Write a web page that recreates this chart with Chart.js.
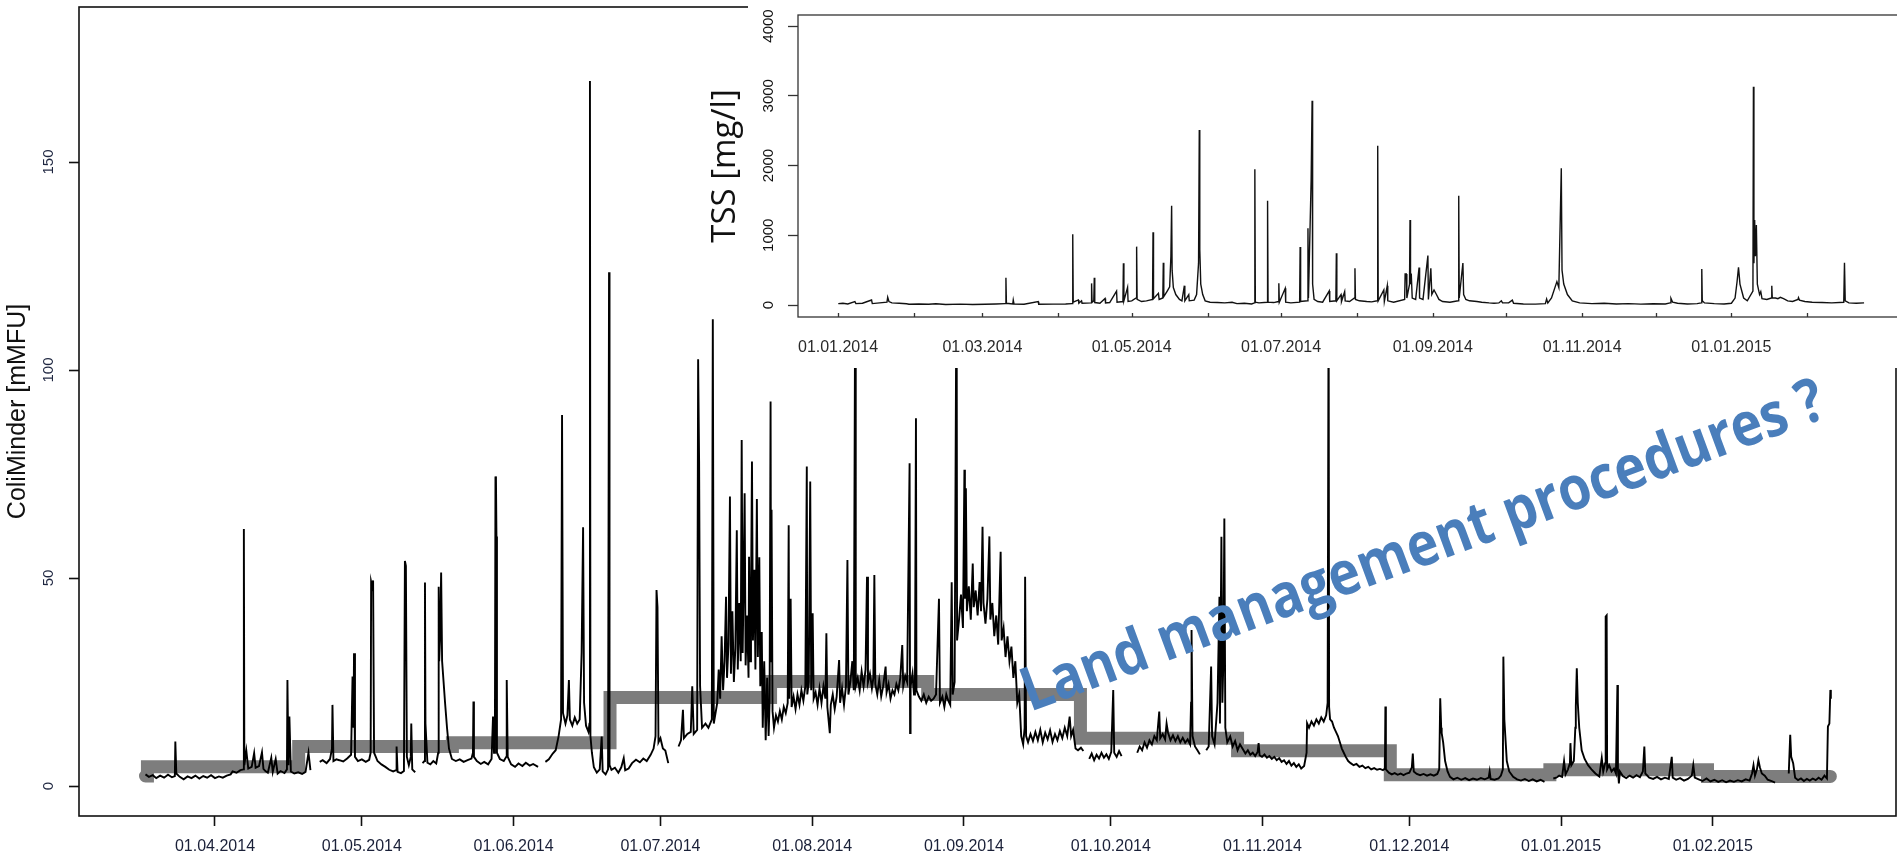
<!DOCTYPE html>
<html>
<head>
<meta charset="utf-8">
<script src="https://cdn.jsdelivr.net/npm/chart.js@4.4.1/dist/chart.umd.min.js"></script>
<style>
  html, body { margin: 0; padding: 0; background: #fff; overflow: hidden; }
  #wrap { position: relative; width: 1897px; height: 861px; overflow: hidden; }
  #main { position: absolute; left: 0; top: 0; }
  #inset { position: absolute; left: 700px; top: 0; }
</style>
</head>
<body>
<div id="wrap">
  <canvas id="main" width="1897" height="861"></canvas>
  <canvas id="inset" width="1202" height="368"></canvas>
</div>
<script>
// days are counted from 01.01.2014
const mainTickLabels = ["01.04.2014", "01.05.2014", "01.06.2014", "01.07.2014", "01.08.2014", "01.09.2014",
  "01.10.2014", "01.11.2014", "01.12.2014", "01.01.2015", "01.02.2015"];
const coliTicks = [0, 50, 100, 150];

const insetTickDates = ["01.01.2014", "01.02.2014", "01.03.2014", "01.04.2014", "01.05.2014", "01.06.2014",
  "01.07.2014", "01.08.2014", "01.09.2014", "01.10.2014", "01.11.2014", "01.12.2014", "01.01.2015", "01.02.2015"];
const insetTickLabels = ["01.01.2014", "", "01.03.2014", "", "01.05.2014", "", "01.07.2014", "",
  "01.09.2014", "", "01.11.2014", "", "01.01.2015", ""];
const tssTicks = [0, 1000, 2000, 3000, 4000];

// grab sample means (grey steps): start day of each level and its value
const stepStartDays = [75.8, 76.2, 107.1, 138.5, 170.7, 203.5, 235.6, 266.8, 298.9, 330.1, 362.7, 394.9, 420.0];
const stepValues = [2.4, 4.6, 9.5, 10.4, 21.3, 25.1, 22.0, 11.5, 8.5, 2.7, 3.9, 2.3, 2.3];

// ColiMinder online signal [day, mMFU]; null = gap in the record
const coliSeries = [
  [75.8, 2.8], [76.5, 2.2], [77.3, 2.6], [78.0, 1.9], [78.8, 2.5], [79.6, 2.0], [80.4, 2.7], [81.2, 2.1],
  [81.8, 2.4], [81.9, 10.7], [82.1, 3.0], [82.8, 2.2], [83.6, 1.6], [84.4, 2.3], [85.2, 1.9], [86.0, 2.5],
  [86.8, 1.8], [87.6, 2.4], [88.4, 2.0], [89.2, 2.6], [90.0, 1.9], [90.8, 2.3], [91.6, 2.0], [92.4, 2.5],
  [93.2, 2.8], [93.6, 3.5], [94.4, 3.2], [95.2, 3.8], [95.8, 4.0], [95.9, 61.8], [96.0, 5.0], [96.4, 8.5],
  [96.8, 4.2], [97.5, 4.6], [98.0, 7.9], [98.3, 4.4], [99.0, 4.8], [99.6, 8.1], [99.9, 4.1], [100.3, 3.6],
  [100.8, 3.2], [101.5, 6.8], [101.8, 3.4], [102.4, 6.5], [102.8, 3.0], [103.4, 3.6], [104.2, 3.1], [104.7, 4.0],
  [104.8, 25.5], [105.0, 5.0], [105.2, 16.7], [105.5, 3.5], [106.2, 3.0], [107.0, 3.3], [107.8, 2.9], [108.5, 3.4],
  [109.1, 8.0], [109.5, 3.8], [110.4, null],
  [111.4, 5.8], [112.0, 6.2], [112.8, 5.5], [113.5, 6.5], [113.9, 9.0], [114.0, 19.5], [114.2, 6.0], [114.8, 6.4],
  [115.4, 6.2], [116.2, 5.9], [117.0, 6.6], [117.8, 7.5], [118.1, 26.3], [118.3, 14.0], [118.4, 31.9], [118.6, 7.0],
  [119.2, 6.0], [120.0, 6.4], [120.8, 5.8], [121.5, 6.3], [121.8, 8.0], [121.9, 49.1], [122.1, 48.0], [122.3, 49.4],
  [122.5, 8.0], [123.2, 6.0], [124.0, 5.2], [124.8, 4.6], [125.6, 3.9], [126.4, 3.5], [127.0, 3.8], [127.1, 9.5],
  [127.3, 3.4], [128.0, 3.1], [128.6, 3.6], [128.8, 54.1], [129.0, 52.9], [129.2, 7.0], [129.6, 5.0], [130.0, 7.0],
  [130.1, 15.0], [130.3, 4.0], [130.9, 3.3], [131.6, null],
  [132.4, 5.5], [132.8, 6.0], [132.9, 48.9], [133.0, 15.0], [133.4, 5.6], [134.0, 5.2], [134.6, 6.0], [135.2, 5.4],
  [135.6, 8.0], [135.7, 47.9], [135.8, 30.0], [136.0, 36.0], [136.2, 51.3], [136.4, 30.0], [136.7, 25.0], [137.0, 20.0],
  [137.4, 14.0], [137.8, 9.0], [138.4, 6.5], [139.2, 6.0], [140.0, 6.4], [140.8, 5.8], [141.6, 6.2], [142.4, 6.6],
  [142.7, 8.0], [142.8, 20.3], [142.9, 7.0], [143.5, 6.0], [144.3, 5.3], [145.0, 5.8], [145.8, 5.2], [146.5, 6.5],
  [146.8, 16.7], [147.0, 8.0], [147.2, 20.0], [147.3, 74.4], [147.4, 73.6], [147.5, 60.0], [147.6, 8.0], [148.2, 6.5],
  [149.0, 6.0], [149.5, 7.0], [149.6, 25.5], [149.8, 7.0], [150.5, 5.2], [151.3, 4.6], [152.0, 5.4], [152.8, 4.8],
  [153.5, 5.6], [154.3, 4.9], [155.0, 5.3], [156.0, 4.6], [156.6, null],
  [157.5, 5.8], [158.2, 6.4], [159.0, 7.8], [159.6, 8.6], [160.2, 12.0], [160.7, 16.0], [160.9, 89.2], [161.1, 17.5],
  [161.6, 15.0], [162.0, 17.0], [162.3, 25.5], [162.5, 16.0], [163.0, 14.5], [163.5, 16.5], [164.0, 15.0], [164.5, 16.0],
  [164.9, 32.0], [165.2, 62.2], [165.4, 20.0], [165.8, 14.5], [166.3, 13.0], [166.5, 15.0], [166.6, 169.5], [166.7, 12.0],
  [167.0, 8.0], [167.4, 4.5], [168.0, 3.2], [168.6, 4.0], [169.0, 11.9], [169.2, 3.5], [169.8, 2.8], [170.3, 4.0],
  [170.5, 123.5], [170.6, 5.0], [171.0, 3.9], [171.7, 4.4], [172.4, 3.2], [173.0, 4.5], [173.5, 6.7], [173.8, 3.8],
  [174.5, 4.2], [175.2, 5.5], [176.0, 6.3], [176.8, 5.7], [177.5, 6.6], [178.2, 6.0], [179.0, 7.5], [179.6, 9.0],
  [180.0, 12.0], [180.2, 47.1], [180.4, 43.0], [180.6, 10.5], [181.0, 11.5], [181.5, 9.0], [182.0, 8.5], [182.6, 5.5],
  [183.5, null],
  [184.7, 9.5], [185.2, 11.0], [185.6, 18.3], [185.8, 11.5], [186.5, 12.5], [187.2, 13.0], [187.5, 24.0], [187.8, 12.5],
  [188.5, 13.5], [188.7, 102.6], [188.9, 78.0], [189.1, 24.0], [189.5, 14.0], [190.2, 15.0], [190.8, 14.0], [191.5, 16.0],
  [191.7, 112.2], [191.9, 15.0],
  [192.6, 20.0], [192.9, 28.0], [193.2, 21.0], [193.5, 36.0], [193.8, 23.0], [194.1, 30.0], [194.4, 45.5], [194.6, 26.0],
  [194.9, 34.0], [195.2, 69.6], [195.4, 27.0], [195.7, 42.0], [196.0, 25.0], [196.3, 33.0], [196.6, 61.5], [196.8, 28.0],
  [197.1, 44.0], [197.4, 30.0], [197.6, 83.2], [197.8, 32.0], [198.0, 50.0], [198.2, 70.4], [198.4, 29.0], [198.7, 41.0],
  [199.0, 26.0], [199.1, 55.1], [199.3, 30.0], [199.5, 45.0], [199.7, 78.0], [199.9, 35.0], [200.2, 52.0], [200.4, 28.0],
  [200.7, 69.0], [200.9, 31.0], [201.2, 55.0], [201.4, 24.0], [201.7, 37.0], [201.9, 14.0], [202.2, 30.0], [202.5, 11.0],
  [202.8, 26.0], [203.1, 12.0], [203.3, 20.0], [203.5, 92.4], [203.6, 30.0], [203.7, 66.4], [203.9, 18.0],
  [204.2, 14.0], [204.6, 17.0], [205.0, 15.5], [205.4, 18.0], [205.8, 16.0], [206.2, 19.0], [206.6, 17.5], [207.0, 20.0],
  [207.2, 62.7], [207.3, 21.0], [207.6, 45.0], [207.8, 19.0], [208.2, 21.5], [208.6, 18.5], [209.0, 22.0], [209.4, 19.5],
  [209.8, 23.0], [210.2, 20.5], [210.6, 24.0], [210.9, 76.8], [211.0, 22.0], [211.3, 25.0], [211.6, 73.2], [211.8, 23.0],
  [212.1, 41.5], [212.3, 21.0], [212.7, 22.5], [213.1, 19.5], [213.5, 23.5], [213.9, 20.0], [214.3, 24.0], [214.7, 21.0],
  [214.9, 36.7], [215.1, 19.0], [215.6, 12.7], [215.8, 19.5], [216.2, 22.0], [216.6, 18.5], [217.0, 21.5], [217.5, 30.3],
  [217.7, 20.0], [218.1, 23.5], [218.5, 19.5], [218.9, 24.0], [219.2, 54.3], [219.4, 22.0], [219.8, 25.0], [220.2, 30.0],
  [220.5, 23.0], [220.8, 125.0], [220.9, 24.0],
  [221.3, 26.0], [221.7, 23.0], [222.1, 27.5], [222.5, 24.0], [222.9, 28.0], [223.2, 50.3], [223.4, 25.0], [223.8, 27.0],
  [224.2, 23.5], [224.5, 26.0], [224.7, 50.7], [224.9, 24.5], [225.3, 22.0], [225.7, 25.5], [226.1, 21.5], [226.5, 24.0],
  [227.0, 28.7], [227.2, 22.5], [227.6, 24.5], [228.0, 21.0], [228.4, 23.0], [228.8, 22.0], [229.2, 24.5], [229.6, 23.0],
  [230.0, 26.0], [230.4, 33.9], [230.6, 24.0], [231.0, 26.5], [231.4, 25.0], [231.9, 77.6], [232.0, 12.7], [232.1, 24.0],
  [232.5, 27.0], [232.8, 22.0], [233.0, 26.0], [233.2, 88.4], [233.3, 23.0],
  [233.8, 21.5], [234.3, 20.5], [234.8, 22.0], [235.3, 20.0], [235.8, 21.5], [236.3, 20.5], [236.8, 21.0], [237.3, 22.0],
  [237.9, 45.0], [238.1, 20.0], [238.6, 21.5], [239.0, 19.0], [239.4, 22.0], [239.8, 20.5], [240.2, 19.5], [240.5, 49.0],
  [240.7, 22.0], [241.1, 25.0], [241.5, 130.0], [241.6, 35.0],
  [242.0, 40.0], [242.4, 46.0], [242.8, 38.0], [243.1, 76.0], [243.2, 45.0], [243.4, 71.6], [243.6, 42.0], [244.0, 48.0],
  [244.4, 40.0], [244.8, 53.5], [245.0, 43.0], [245.4, 47.0], [245.8, 41.0], [246.2, 49.0], [246.5, 42.0], [246.8, 62.3],
  [247.0, 44.0], [247.4, 39.0], [247.8, 45.0], [248.2, 60.0], [248.4, 40.0], [248.8, 44.0], [249.2, 36.0], [249.6, 41.0],
  [250.0, 34.0], [250.5, 56.3], [250.7, 35.0], [251.1, 38.0], [251.5, 31.0], [251.9, 36.0], [252.3, 30.0], [252.7, 33.5],
  [253.1, 26.0], [253.5, 30.0], [253.9, 20.0], [254.3, 22.0], [254.7, 12.0], [255.1, 10.0], [255.4, 14.0], [255.5, 50.3],
  [255.7, 12.0],
  [256.1, 10.5], [256.6, 12.5], [257.1, 10.8], [257.6, 13.0], [258.1, 11.0], [258.6, 13.5], [259.1, 10.5], [259.6, 12.8],
  [260.1, 11.2], [260.6, 13.4], [261.1, 10.6], [261.6, 12.5], [262.1, 11.0], [262.6, 13.2], [263.1, 11.5], [263.6, 14.0],
  [264.1, 12.0], [264.6, 16.7], [264.9, 12.0], [265.3, 13.5], [265.8, 9.0], [266.3, 8.6], [266.9, 9.2], [267.4, 8.4],
  [268.0, null],
  [268.6, 6.5], [269.1, 7.8], [269.6, 6.2], [270.1, 7.5], [270.6, 6.6], [271.1, 8.0], [271.6, 6.8], [272.1, 7.6],
  [272.6, 6.5], [273.1, 8.2], [273.5, 23.1], [273.7, 8.0], [274.2, 7.0], [274.7, 8.4], [275.2, 7.2], [276.5, null],
  [278.4, 8.0], [278.9, 9.5], [279.4, 8.6], [279.9, 10.5], [280.4, 9.2], [280.9, 11.0], [281.4, 10.0], [281.9, 12.0],
  [282.4, 11.0], [282.9, 17.9], [283.1, 11.5], [283.6, 12.5], [284.1, 11.2], [284.4, 15.0], [284.7, 12.8], [285.2, 11.0],
  [285.7, 12.2], [286.2, 10.8], [286.7, 12.0], [287.2, 10.5], [287.7, 11.6], [288.2, 10.4], [288.7, 11.2], [289.2, 10.0],
  [289.4, 20.0], [289.5, 37.5], [289.7, 12.0], [290.2, 9.5], [290.7, 8.6], [291.2, 7.6], [291.8, null],
  [292.5, 8.6], [293.0, 9.5], [293.5, 28.7], [293.7, 12.0], [294.2, 10.0], [294.8, 20.0], [295.2, 45.5], [295.3, 15.0],
  [295.6, 59.9], [295.8, 20.0], [296.0, 30.0], [296.2, 64.3], [296.4, 14.0], [296.8, 10.5],
  [297.4, 11.9], [297.9, 9.5], [298.4, 10.8], [298.9, 8.6], [299.4, 10.0], [299.9, 9.0],
  [300.5, 7.8], [301.0, 8.6], [301.5, 7.5], [302.0, 8.0], [302.5, 7.2], [303.0, 8.2], [303.2, 10.3], [303.4, 7.4],
  [303.9, 7.0], [304.4, 7.6], [304.9, 6.8], [305.4, 7.2], [305.9, 6.5], [306.4, 7.0], [306.9, 6.2], [307.4, 6.7],
  [307.9, 5.8], [308.4, 6.2], [308.9, 5.3], [309.4, 6.0], [309.9, 4.9], [310.4, 5.5], [310.9, 4.6], [311.4, 5.2],
  [311.9, 4.2], [312.5, 4.8], [313.0, 8.0], [313.1, 15.1], [313.5, 14.0], [314.0, 15.5], [314.5, 14.5], [315.0, 16.0],
  [315.5, 15.0], [316.0, 16.5], [316.5, 15.5], [317.0, 17.0], [317.3, 20.0], [317.5, 120.0], [317.6, 19.0], [317.8, 16.0],
  [318.2, 15.5], [318.6, 14.0], [319.0, 13.0], [319.4, 12.0], [319.8, 10.5], [320.2, 9.0], [320.6, 8.0], [321.0, 7.0],
  [321.5, 6.0], [322.0, 5.5], [322.6, 5.0], [323.2, 5.3], [323.8, 4.6], [324.4, 4.9], [325.0, 4.3], [325.6, 4.6],
  [326.2, 4.0], [326.8, 4.3], [327.4, 3.9], [328.0, 4.1], [328.6, 3.8], [329.0, 4.2], [329.1, 19.1], [329.2, 4.0],
  [329.8, 3.2], [330.4, 2.8], [331.0, 3.1], [331.6, 2.7], [332.2, 3.0], [332.8, 2.6], [333.4, 3.0], [334.0, 3.2],
  [334.5, 4.5], [334.7, 7.8], [334.9, 3.5], [335.5, 2.9], [336.2, 2.6], [336.9, 2.9], [337.6, 2.5], [338.3, 2.8],
  [339.0, 2.5], [339.7, 2.9], [340.1, 4.0], [340.3, 21.1], [340.5, 14.0], [340.6, 12.7], [340.9, 10.5], [341.3, 6.0],
  [341.8, 3.5], [342.3, 2.2], [343.0, 1.6], [343.8, 2.0], [344.6, 1.5], [345.4, 1.9], [346.2, 1.4], [347.0, 1.8],
  [347.8, 1.5], [348.6, 1.9], [349.4, 1.6], [350.2, 2.0], [350.4, 3.5], [350.6, 1.7], [351.4, 1.5], [352.2, 1.8],
  [352.7, 2.5], [353.1, 4.0], [353.2, 31.1], [353.4, 16.0], [353.6, 12.0], [353.9, 6.0], [354.4, 3.5], [355.2, 2.2],
  [356.0, 1.6], [356.8, 1.3], [357.6, 1.7], [358.4, 1.2], [359.2, 1.6], [360.0, 1.1], [360.8, 1.5], [361.6, 1.0],
  [362.4, null],
  [363.4, 1.8], [364.0, 2.0], [364.6, 2.5], [365.2, 2.2], [365.6, 6.0], [365.9, 2.8], [366.4, 4.0], [366.8, 5.5],
  [366.9, 10.3], [367.1, 5.0], [367.6, 6.0], [367.9, 14.0], [368.0, 19.1], [368.2, 28.3], [368.4, 20.0], [368.7, 14.0],
  [369.2, 8.6], [369.8, 6.5], [370.5, 5.0], [371.2, 4.0], [372.0, 3.0], [372.8, 2.3], [373.3, 6.7], [373.6, 3.5],
  [373.9, 5.0], [374.0, 5.5], [374.1, 40.7], [374.3, 41.0], [374.4, 4.0], [374.8, 5.0], [375.3, 3.5], [375.8, 4.2],
  [376.2, 3.0], [376.5, 24.3], [376.6, 4.0], [376.8, 0.6], [377.0, 3.5], [377.6, 2.4], [378.3, 1.9], [379.0, 2.5],
  [379.7, 2.0], [380.4, 2.6], [381.1, 2.1], [381.7, 3.5], [382.0, 9.5], [382.2, 3.0], [383.0, 2.0], [383.8, 1.7],
  [384.6, 2.2], [385.4, 1.6], [386.2, 2.0], [387.0, 1.7], [387.6, 7.0], [387.8, 2.0], [388.5, 1.5], [389.3, 1.9],
  [390.1, 1.3], [390.9, 1.7], [391.7, 2.5], [392.0, 5.0], [392.3, 2.0], [393.1, 1.6], [393.9, 1.2], [394.7, 1.8],
  [395.5, 1.1], [396.3, 1.5], [397.1, 1.0], [397.9, 1.4], [398.7, 0.9], [399.5, 1.3], [400.3, 1.0], [401.1, 1.4],
  [401.9, 1.1], [402.7, 1.6], [403.5, 1.3], [404.0, 3.0], [404.3, 5.0], [404.6, 2.5], [405.0, 4.0], [405.3, 6.2],
  [405.6, 4.5], [406.0, 3.0], [406.6, 2.5], [407.2, 1.5], [408.0, 1.2], [408.7, 0.8], [409.5, null],
  [411.5, 3.0], [411.8, 12.3], [412.0, 7.0], [412.4, 5.5], [412.8, 2.0], [413.4, 1.4], [414.0, 1.8], [414.6, 1.2],
  [415.2, 1.7], [415.8, 1.3], [416.4, 1.8], [417.0, 1.4], [417.6, 2.0], [418.2, 1.5], [418.8, 2.5], [419.3, 1.8],
  [419.5, 14.3], [419.8, 15.0], [420.0, 23.1], [420.1, 21.0]
];

// TSS [day, mg/l]
const tssSeries = [
  [0.1, 20], [2, 25], [4, 15], [6.9, 48], [7.3, 20], [10, 25], [13.7, 72], [14.0, 20], [17, 30], [20.0, 40],
  [20.3, 110], [20.8, 50], [22, 30], [25, 25], [28, 18], [29, 10], [33, 15], [37, 10], [40, 18], [44, 8],
  [50, 12], [55, 8], [60, 10], [64.5, 15], [68.3, 20], [68.6, 392], [68.8, 25], [71.4, 15], [71.6, 72], [71.9, 15],
  [76, 10], [81.8, 48], [82.0, 10], [88, 12], [93, 15], [95.6, 20], [95.9, 1013], [96.1, 40], [98.2, 72], [98.4, 25],
  [99.5, 60], [99.7, 25], [103.4, 30], [103.6, 310], [103.8, 40], [104.5, 60], [104.7, 392], [104.9, 35], [107, 25],
  [109.1, 95], [109.3, 30], [111, 35], [113.8, 200], [114.0, 40], [116.4, 50], [116.6, 598], [116.8, 60], [118.3, 254],
  [118.5, 50], [120, 60], [121.8, 100], [122.0, 837], [122.2, 80], [124, 50], [126, 60], [128.5, 80], [128.7, 1042],
  [128.9, 90], [130.9, 167], [131.2, 80], [132.7, 100], [132.9, 607], [133.1, 120], [134.5, 200], [135.5, 260],
  [136.0, 700], [136.3, 1424], [136.5, 500], [137.0, 250], [138.0, 150], [139.5, 80], [140.5, 60], [141.5, 277],
  [141.7, 60], [143.3, 148], [143.5, 60], [145.5, 70], [146.5, 150], [147.3, 600], [147.6, 2509], [147.8, 800],
  [148.2, 300], [149, 150], [150, 60], [152, 40], [155, 35], [158, 30], [161, 40], [163, 20], [166, 25], [169, 15],
  [170.1, 30], [170.3, 1945], [170.5, 40], [172, 30], [175.3, 40], [175.5, 1496], [175.7, 40], [178, 35], [180, 50],
  [180.1, 311], [180.3, 40], [182.7, 239], [182.9, 40], [185, 30], [188.6, 40], [188.8, 832], [189.0, 50], [191.8, 60],
  [192.0, 1099], [192.2, 100], [193.3, 1792], [193.7, 2930], [193.9, 300], [194.5, 80], [196, 50], [198, 40],
  [200.7, 201], [200.9, 50], [203.4, 60], [203.6, 741], [203.8, 60], [205.5, 148], [205.7, 50], [207, 191], [207.2, 60],
  [209, 50], [211.0, 100], [211.2, 526], [211.4, 80], [213, 60], [216, 50], [218, 45], [220.3, 60], [220.5, 2285],
  [220.7, 60], [223.0, 215], [223.2, 50], [224.4, 277], [224.6, 60], [227, 40], [231.5, 80], [231.7, 445], [232.2, 445],
  [232.4, 100], [233.5, 300], [233.7, 1219], [233.9, 300], [234.2, 450], [234.6, 100], [236, 80], [237.4, 536],
  [237.6, 100], [239, 80], [241.0, 708], [241.2, 80], [242.2, 526], [242.6, 150], [243.5, 215], [244.5, 150],
  [245.5, 80], [247, 50], [250, 40], [253.4, 60], [253.6, 1568], [253.8, 100], [255.3, 602], [255.6, 150], [256.5, 80],
  [258, 60], [261, 50], [263, 40], [266, 30], [268, 25], [270, 30], [271, 60], [271.5, 30], [274, 30], [275.5, 70],
  [276, 25], [280, 15], [285, 12], [289, 20], [289.5, 86], [290, 30], [291.5, 100], [293.7, 335], [294.5, 250],
  [295.5, 1960], [295.8, 500], [296.5, 300], [298, 150], [300, 60], [303, 30], [308, 20], [313, 25], [318, 15],
  [323, 20], [328, 12], [333, 18], [338, 15], [340.0, 30], [340.3, 96], [341, 40], [343, 25], [347, 15], [351, 20],
  [352.7, 30], [352.9, 516], [353.1, 60], [354, 30], [358, 20], [362, 15], [365, 25], [366.5, 100], [367.3, 330],
  [367.9, 540], [368.5, 300], [370, 100], [371.5, 60], [373.8, 200], [374.0, 3130], [374.2, 600], [374.5, 1219],
  [374.8, 700], [375.2, 1147], [375.6, 300], [376.5, 150], [377.0, 191], [377.5, 90], [379.5, 80], [381.3, 100],
  [381.5, 277], [381.7, 100], [383, 100], [384, 90], [385, 110], [386.3, 90], [388, 60], [390, 50], [392.2, 80],
  [392.4, 105], [392.8, 70], [395, 50], [398, 40], [402, 35], [406, 30], [410.9, 40], [411.2, 607], [411.5, 60],
  [413, 30], [416, 25], [419.2, 30]
];

const noteText = "Land management procedures ?";

function dayOf(label) {
  const [d, m, y] = label.split(".").map(Number);
  return (Date.UTC(y, m - 1, d) - Date.UTC(2014, 0, 1)) / 86400000;
}
const mainTickDays = mainTickLabels.map(dayOf);
const insetTickDays = insetTickDates.map(dayOf);

const toPoints = (rows) => rows.map(([x, y]) => ({ x, y }));
const stepPoints = stepStartDays.map((x, i) => ({ x, y: stepValues[i] }));

const rTickFont = '"Liberation Sans", Arial, sans-serif';

// rotated y tick labels, R style (read bottom to top)
const rotatedYLabels = {
  id: "rotatedYLabels",
  afterDraw(chart, args, opts) {
    const scale = chart.scales.y;
    const ctx = chart.ctx;
    ctx.save();
    ctx.fillStyle = opts.color;
    ctx.font = opts.font;
    ctx.textAlign = "center";
    ctx.textBaseline = "middle";
    scale.ticks.forEach((tick) => {
      ctx.save();
      ctx.translate(opts.x, scale.getPixelForValue(tick.value));
      ctx.rotate(-Math.PI / 2);
      ctx.fillText(String(tick.value), 0, 0);
      ctx.restore();
    });
    ctx.restore();
  },
};

const plotBox = {
  id: "plotBox",
  afterDatasetsDraw(chart, args, opts) {
    const { left, top, right, bottom } = chart.chartArea;
    const ctx = chart.ctx;
    ctx.save();
    ctx.strokeStyle = opts.color;
    ctx.lineWidth = opts.width;
    ctx.strokeRect(left, top, right - left, bottom - top);
    ctx.restore();
  },
};

const annotation = {
  id: "annotation",
  afterDraw(chart) {
    const ctx = chart.ctx;
    ctx.save();
    ctx.translate(1030, 712);
    ctx.rotate((-20.3 * Math.PI) / 180);
    ctx.font = 'bold 61px "Open Sans", "Noto Sans", sans-serif';
    const w = ctx.measureText(noteText).width;
    ctx.scale(852 / w, 1);
    ctx.fillStyle = "#4a7ebb";
    ctx.textBaseline = "alphabetic";
    ctx.fillText(noteText, 0, 0);
    ctx.restore();
  },
};

new Chart(document.getElementById("main"), {
  type: "line",
  data: {
    datasets: [
      {
        label: "ColiMinder",
        data: toPoints(coliSeries),
        borderColor: "#000",
        borderWidth: 1.9,
        borderJoinStyle: "miter",
        pointRadius: 0,
        spanGaps: false,
        order: 0,
      },
      {
        label: "Grab samples",
        data: stepPoints,
        stepped: true,
        borderColor: "#7d7d7d",
        borderWidth: 13,
        borderCapStyle: "round",
        pointRadius: 0,
        order: 1,
      },
    ],
  },
  options: {
    responsive: false,
    animation: false,
    devicePixelRatio: 1,
    layout: { padding: { top: 7, right: 1, left: 0, bottom: 0 } },
    plugins: {
      legend: { display: false },
      tooltip: { enabled: false },
      rotatedYLabels: { x: 49, color: "#1e2640", font: "15px " + rTickFont },
      plotBox: { color: "#111", width: 1.6 },
    },
    scales: {
      x: {
        type: "linear",
        min: 62.22,
        max: 433.41,
        afterBuildTicks: (scale) => {
          scale.ticks = mainTickDays.map((value) => ({ value }));
        },
        afterFit: (scale) => {
          scale.height = 45;
        },
        grid: { drawOnChartArea: false, drawTicks: true, tickLength: 10, tickColor: "#111", tickWidth: 1.6 },
        border: { display: false },
        ticks: {
          autoSkip: false,
          maxRotation: 0,
          padding: 11,
          color: "#1a2038",
          font: { family: rTickFont, size: 16 },
          callback: (value) => mainTickLabels[mainTickDays.indexOf(value)],
        },
      },
      y: {
        min: -7.21,
        max: 187.26,
        afterBuildTicks: (scale) => {
          scale.ticks = coliTicks.map((value) => ({ value }));
        },
        afterFit: (scale) => {
          scale.width = 79;
        },
        grid: { drawOnChartArea: false, drawTicks: true, tickLength: 10, tickColor: "#111", tickWidth: 1.6 },
        border: { display: false },
        ticks: { display: false },
        title: {
          display: true,
          text: "ColiMinder [mMFU]",
          color: "#111",
          padding: { top: 3, bottom: 0 },
          font: { family: rTickFont, size: 25 },
        },
      },
    },
  },
  plugins: [rotatedYLabels, plotBox, annotation],
});

// inset: white panel, inward x ticks, box
const insetDecor = {
  id: "insetDecor",
  beforeDraw(chart) {
    const ctx = chart.ctx;
    ctx.save();
    ctx.fillStyle = "#fff";
    ctx.fillRect(48, 0, chart.width - 48, chart.height);
    ctx.restore();
  },
  afterDraw(chart) {
    const ctx = chart.ctx;
    const xs = chart.scales.x;
    const { left, top, right, bottom } = chart.chartArea;
    ctx.save();
    ctx.strokeStyle = "#333";
    ctx.lineWidth = 1.3;
    ctx.strokeRect(left, top, right - left + 5, bottom - top);
    ctx.beginPath();
    xs.ticks.forEach((tick) => {
      const x = Math.round(xs.getPixelForValue(tick.value)) + 0.5;
      ctx.moveTo(x, bottom);
      ctx.lineTo(x, bottom - 4);
    });
    ctx.stroke();
    ctx.restore();
  },
};

new Chart(document.getElementById("inset"), {
  type: "line",
  data: {
    datasets: [
      {
        label: "TSS",
        data: toPoints(tssSeries),
        borderColor: "#111",
        borderWidth: 1.4,
        pointRadius: 0,
      },
    ],
  },
  options: {
    responsive: false,
    animation: false,
    devicePixelRatio: 1,
    layout: { padding: { top: 15, right: 0, left: 0, bottom: 0 } },
    plugins: {
      legend: { display: false },
      tooltip: { enabled: false },
      rotatedYLabels: { x: 69, color: "#111", font: "15px " + rTickFont },
    },
    scales: {
      x: {
        type: "linear",
        min: -16.35,
        max: 434.7,
        afterBuildTicks: (scale) => {
          scale.ticks = insetTickDays.map((value) => ({ value }));
        },
        afterFit: (scale) => {
          scale.height = 51;
        },
        grid: { drawOnChartArea: false, drawTicks: false },
        border: { display: false },
        ticks: {
          autoSkip: false,
          maxRotation: 0,
          padding: 21,
          color: "#2a2a2a",
          font: { family: rTickFont, size: 16 },
          callback: (value) => insetTickLabels[insetTickDays.indexOf(value)],
        },
      },
      y: {
        min: -172,
        max: 4158,
        afterBuildTicks: (scale) => {
          scale.ticks = tssTicks.map((value) => ({ value }));
        },
        afterFit: (scale) => {
          scale.width = 98;
        },
        grid: { drawOnChartArea: false, drawTicks: true, tickLength: 10, tickColor: "#333", tickWidth: 1.3 },
        border: { display: false },
        ticks: { display: false },
        title: {
          display: true,
          text: "TSS [mg/l]",
          color: "#111",
          padding: { top: 6, bottom: 0 },
          font: { family: '"Open Sans", "Noto Sans", sans-serif', size: 33 },
        },
      },
    },
  },
  plugins: [insetDecor, rotatedYLabels],
});
</script>
</body>
</html>
